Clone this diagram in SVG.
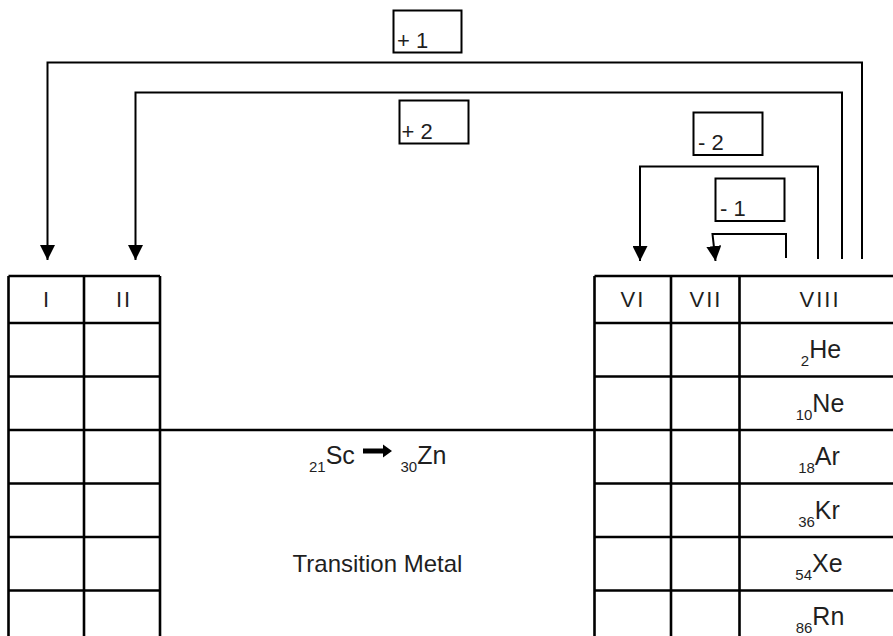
<svg xmlns="http://www.w3.org/2000/svg" width="893" height="636" viewBox="0 0 893 636">
<style>
  .grid { stroke: #000; stroke-width: 2.6; fill: none; }
  .conn { stroke: #000; stroke-width: 2; fill: none; }
  .box { stroke: #000; stroke-width: 2; fill: #fff; }
  .lbl { font-family: "Liberation Sans", Arial, sans-serif; font-size: 22px; fill: #1f1f1f; }
  .hdr { font-family: "Liberation Sans", Arial, sans-serif; font-size: 22px; fill: #1f1f1f; text-anchor: middle; letter-spacing: 2px; }
  .el { font-family: "Liberation Sans", Arial, sans-serif; font-size: 25px; fill: #1f1f1f; }
  .sub { font-size: 15px; }
  .mid { font-family: "Liberation Sans", Arial, sans-serif; font-size: 24px; fill: #1f1f1f; text-anchor: middle; }
</style>
<defs>
  <marker id="ah" viewBox="0 0 15 15" refX="15" refY="7.5" markerWidth="15" markerHeight="15" markerUnits="userSpaceOnUse" orient="auto">
    <path d="M0,0 L15,7.5 L0,15 Z" fill="#000"/>
  </marker>
</defs>
<rect width="893" height="636" fill="#fff"/>

<g id="connectors">
  <path class="conn" d="M862,259 V62.5 H47.5 V260" marker-end="url(#ah)"/>
  <path class="conn" d="M842,259 V92.5 H135.5 V260" marker-end="url(#ah)"/>
  <path class="conn" d="M818,259 V166.5 H640 V261" marker-end="url(#ah)"/>
  <path class="conn" d="M786,258 V234 H712.5 L715.5,261" marker-end="url(#ah)"/>
</g>

<g id="label-plus1">
  <rect class="box" x="393.5" y="10.5" width="68" height="42"/>
  <text class="lbl" x="397" y="47.5">+ 1</text>
</g>
<g id="label-plus2">
  <rect class="box" x="399.5" y="100.5" width="69" height="43"/>
  <text class="lbl" x="401.5" y="138.5">+ 2</text>
</g>
<g id="label-minus2">
  <rect class="box" x="693.5" y="112.5" width="69" height="42.5"/>
  <text class="lbl" x="698" y="150">- 2</text>
</g>
<g id="label-minus1">
  <rect class="box" x="715.5" y="178.5" width="69" height="42.5"/>
  <text class="lbl" x="720" y="215.5">- 1</text>
</g>

<g id="table-left">
  <path class="grid" d="M8.5,276 V640 M84,276 V640 M160,276 V640 M8.5,276 H160 M8.5,323 H160 M8.5,376.5 H160 M8.5,430 H160 M8.5,483.5 H160 M8.5,537 H160 M8.5,590.5 H160"/>
  <text class="hdr" x="47" y="307">I</text>
  <text class="hdr" x="124" y="307">II</text>
</g>

<g id="transition-region">
  <path class="grid" d="M160,430 H594.5"/>
  <text class="el" x="309" y="464"><tspan class="sub" dy="8">21</tspan><tspan dy="-8">Sc</tspan></text>
  <path d="M363,448.5 H383 V444.5 L392,451 L383,457.5 V453.5 H363 Z" fill="#000"/>
  <text class="el" x="400.5" y="464"><tspan class="sub" dy="8">30</tspan><tspan dy="-8">Zn</tspan></text>
  <text class="mid" x="377.5" y="571.5">Transition Metal</text>
</g>

<g id="table-right">
  <path class="grid" d="M594.5,276 V640 M671,276 V640 M739.5,276 V640 M594.5,276 H895 M594.5,323 H895 M594.5,376.5 H895 M594.5,430 H895 M594.5,483.5 H895 M594.5,537 H895 M594.5,590.5 H895"/>
  <text class="hdr" x="633" y="307">VI</text>
  <text class="hdr" x="706" y="307">VII</text>
  <text class="hdr" x="820" y="307">VIII</text>
  <g class="el" text-anchor="middle">
    <text x="821" y="358"><tspan class="sub" dy="8">2</tspan><tspan dy="-8">He</tspan></text>
    <text x="820" y="411.5"><tspan class="sub" dy="8">10</tspan><tspan dy="-8">Ne</tspan></text>
    <text x="819" y="465"><tspan class="sub" dy="8">18</tspan><tspan dy="-8">Ar</tspan></text>
    <text x="819" y="518.5"><tspan class="sub" dy="8">36</tspan><tspan dy="-8">Kr</tspan></text>
    <text x="819" y="572"><tspan class="sub" dy="8">54</tspan><tspan dy="-8">Xe</tspan></text>
    <text x="820" y="625"><tspan class="sub" dy="8">86</tspan><tspan dy="-8">Rn</tspan></text>
  </g>
</g>
</svg>
